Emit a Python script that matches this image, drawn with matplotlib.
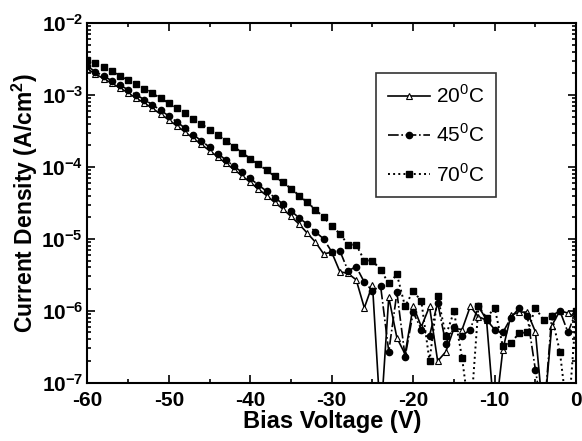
import numpy as np
import matplotlib.pyplot as plt
from matplotlib.ticker import LogLocator, MultipleLocator, FixedLocator, FixedFormatter

plt.rcParams['font.family'] = ['Liberation Sans', 'DejaVu Sans']
plt.rcParams['mathtext.fontset'] = 'custom'
plt.rcParams['mathtext.rm'] = 'Liberation Sans'
plt.rcParams['mathtext.bf'] = 'Liberation Sans:bold'
plt.rcParams['axes.unicode_minus'] = False

# bias voltage, V
voltage = list(range(-60, 1))

# current density, A/cm^2 (values below 1e-7 fall off the axis)
j_20 = [2.3e-3, 1.95e-3, 1.68e-3, 1.45e-3, 1.25e-3, 1.07e-3, 9.0e-4, 7.7e-4, 6.5e-4, 5.4e-4,
        4.5e-4, 3.7e-4, 3.05e-4, 2.5e-4, 2.05e-4, 1.68e-4, 1.38e-4, 1.12e-4, 9.2e-5, 7.5e-5,
        6.1e-5, 4.9e-5, 4.0e-5, 3.2e-5, 2.6e-5, 2.05e-5, 1.6e-5, 1.2e-5, 9.0e-6, 6.2e-6,
        6.5e-6, 3.5e-6, 3.3e-6, 2.7e-6, 1.1e-6, 2.3e-6, 3e-8, 1.55e-6, 4.2e-7, 2.5e-7,
        1.17e-6, 6.0e-7, 1.15e-6, 2.0e-7, 2.7e-7, 5.7e-7, 5.5e-7, 1.15e-6, 8.3e-7, 7.4e-7,
        3e-8, 2.9e-7, 8.7e-7, 9.6e-7, 9.6e-7, 5.1e-7, 3e-8, 6.2e-7, 1.0e-6, 9.3e-7, 8.0e-7]
j_45 = [2.5e-3, 2.1e-3, 1.82e-3, 1.58e-3, 1.37e-3, 1.18e-3, 1.0e-3, 8.6e-4, 7.3e-4, 6.1e-4,
        5.1e-4, 4.2e-4, 3.45e-4, 2.8e-4, 2.3e-4, 1.88e-4, 1.53e-4, 1.25e-4, 1.02e-4, 8.4e-5,
        6.9e-5, 5.6e-5, 4.6e-5, 3.75e-5, 3.05e-5, 2.45e-5, 1.95e-5, 1.6e-5, 1.25e-5, 1.0e-5,
        6.6e-6, 6.8e-6, 3.6e-6, 4.1e-6, 2.5e-6, 1.9e-6, 2.2e-6, 2.7e-7, 1.8e-6, 2.3e-7,
        9.5e-7, 5.5e-7, 4.5e-7, 1.3e-6, 3.5e-7, 6.0e-7, 4.5e-7, 5.5e-7, 1.15e-6, 7.5e-7,
        5.5e-7, 5.0e-7, 8.0e-7, 1.1e-6, 8.5e-7, 1.5e-7, 3e-8, 8.5e-7, 1.0e-6, 5.0e-7, 1.0e-6]
j_70 = [3.1e-3, 2.75e-3, 2.42e-3, 2.12e-3, 1.85e-3, 1.62e-3, 1.41e-3, 1.22e-3, 1.05e-3, 9.0e-4,
        7.7e-4, 6.6e-4, 5.6e-4, 4.7e-4, 3.95e-4, 3.3e-4, 2.75e-4, 2.3e-4, 1.9e-4, 1.58e-4,
        1.3e-4, 1.08e-4, 9.0e-5, 7.4e-5, 6.1e-5, 5.0e-5, 4.0e-5, 3.2e-5, 2.55e-5, 2.0e-5,
        1.5e-5, 1.18e-5, 8.3e-6, 8.3e-6, 5.0e-6, 5.0e-6, 3.7e-6, 2.4e-6, 3.2e-6, 1.15e-6,
        1.9e-6, 1.35e-6, 2.0e-7, 1.6e-6, 4.5e-7, 9.8e-7, 2.2e-7, 3e-8, 1.15e-6, 8.0e-7,
        1.1e-6, 3.2e-7, 3.6e-7, 4.9e-7, 5.0e-7, 1.1e-6, 7.4e-7, 8.5e-7, 2.7e-7, 3e-8, 1.0e-6]

labels = ['20$^0$C', '45$^0$C', '70$^0$C']
ytick_vals = [1e-7, 1e-6, 1e-5, 1e-4, 1e-3, 1e-2]
ytick_text = [r'$\mathbf{10^{-7}}$', r'$\mathbf{10^{-6}}$', r'$\mathbf{10^{-5}}$',
              r'$\mathbf{10^{-4}}$', r'$\mathbf{10^{-3}}$', r'$\mathbf{10^{-2}}$']

fig = plt.figure(figsize=(5.82, 4.41), dpi=100)
ax = fig.add_axes([0.150, 0.132, 0.840, 0.816])

ax.plot(voltage, j_20, '-', color='black', lw=1.2, marker='^', ms=4.5,
        mfc='white', mec='black', mew=0.8, label=labels[0])
ax.plot(voltage, j_45, '-.', color='black', lw=1.2, marker='o', ms=4.5,
        mfc='black', mec='black', label=labels[1])
ax.plot(voltage, j_70, ':', color='black', lw=1.4, marker='s', ms=4,
        mfc='black', mec='black', label=labels[2])

ax.set_yscale('log')
ax.set_xlim(-60, 0)
ax.set_ylim(1e-7, 1e-2)

ax.xaxis.set_major_locator(MultipleLocator(10))
ax.xaxis.set_minor_locator(MultipleLocator(5))
ax.yaxis.set_major_locator(FixedLocator(ytick_vals))
ax.yaxis.set_major_formatter(FixedFormatter(ytick_text))
ax.yaxis.set_minor_locator(LogLocator(base=10, subs=np.arange(2, 10)))
ax.yaxis.set_minor_formatter(plt.NullFormatter())

ax.tick_params(which='both', direction='in', top=True, right=True, width=1.2)
ax.tick_params(which='major', length=6, labelsize=15)
ax.tick_params(axis='x', which='major', pad=6)
ax.tick_params(axis='y', which='major', pad=3)
ax.tick_params(which='minor', length=3)
for lab in ax.get_xticklabels():
    lab.set_fontweight('bold')
for s in ax.spines.values():
    s.set_linewidth(1.5)

ax.set_xlabel('Bias Voltage (V)', fontsize=17, fontweight='bold', labelpad=0)
ax.set_ylabel('Current Density (A/cm$^\\mathbf{2}$)', fontsize=16.5, fontweight='bold', labelpad=1)

leg = ax.legend(loc='upper left', bbox_to_anchor=(0.57, 0.89), fontsize=15,
                frameon=True, fancybox=False, edgecolor='black', handlelength=2.0,
                handletextpad=0.3, borderpad=0.55, labelspacing=0.8)
leg.get_frame().set_linewidth(1.2)

plt.savefig('out.png', dpi=100)
